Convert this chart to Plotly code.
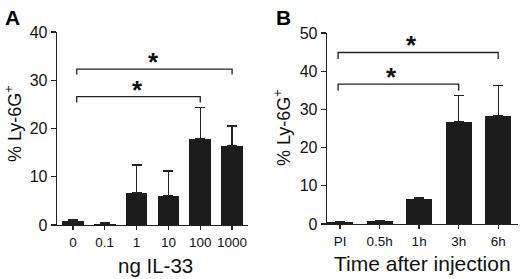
import plotly.graph_objects as go

W, H = 520, 279

# ---------------- data ----------------
a_cats = ["0", "0.1", "1", "10", "100", "1000"]
a_vals = [0.8, 0.3, 6.6, 6.1, 17.8, 16.4]
a_err = [0.2, 0.1, 5.8, 5.1, 6.5, 4.1]

b_cats = ["PI", "0.5h", "1h", "3h", "6h"]
b_vals = [0.6, 0.7, 6.6, 26.8, 28.4]
b_err = [0.1, 0.1, 0.4, 6.8, 7.8]

# brackets: (left index, right index, height, drop height)
a_brackets = [(0, 5, 32.3, 31.2), (0, 4, 26.6, 25.4)]
b_brackets = [(0, 4, 44.9, 43.2), (0, 3, 36.6, 34.9)]

FONT = "Arial, Liberation Sans, sans-serif"
BAR = "#1c1c1c"
INK = "#222222"


def px_x(p):
    return p / W


def px_y(p):
    return (H - p) / H


fig = go.Figure()

fig.add_trace(go.Bar(
    x=list(range(len(a_cats))), y=a_vals, width=0.68,
    marker=dict(color=BAR, line=dict(width=0)),
    error_y=dict(type="data", array=a_err, arrayminus=[0] * len(a_err),
                 symmetric=False, color=INK, thickness=1.4, width=5),
    xaxis="x", yaxis="y", showlegend=False, hoverinfo="skip"))

fig.add_trace(go.Bar(
    x=list(range(len(b_cats))), y=b_vals, width=0.66,
    marker=dict(color=BAR, line=dict(width=0)),
    error_y=dict(type="data", array=b_err, arrayminus=[0] * len(b_err),
                 symmetric=False, color=INK, thickness=1.4, width=5),
    xaxis="x2", yaxis="y2", showlegend=False, hoverinfo="skip"))

axis_common = dict(showgrid=False, zeroline=False, showline=True,
                   linecolor=INK, linewidth=1.3, ticks="outside",
                   tickcolor=INK, tickwidth=1.3, ticklen=5, automargin=False,
                   tickfont=dict(family=FONT, size=13.5, color="#111"))

fig.update_layout(
    width=W, height=H,
    margin=dict(l=0, r=0, t=0, b=0, autoexpand=False),
    paper_bgcolor="white", plot_bgcolor="white",
    bargap=0,
    xaxis=dict(axis_common, domain=[px_x(57), px_x(248)], range=[-0.5, 5.5],
               tickmode="array", tickvals=list(range(len(a_cats))),
               ticktext=a_cats, anchor="y", ticklen=4),
    yaxis=dict(axis_common, domain=[px_y(225), px_y(32)], range=[0, 40],
               tickvals=[0, 10, 20, 30, 40], anchor="x",
               tickfont=dict(family=FONT, size=16, color="#111")),
    xaxis2=dict(axis_common, domain=[px_x(327), px_x(518)], range=[-0.33, 4.5],
                tickmode="array", tickvals=list(range(len(b_cats))),
                ticktext=b_cats, anchor="y2", ticklen=4),
    yaxis2=dict(axis_common, domain=[px_y(224), px_y(33)], range=[0, 50],
                tickvals=[0, 10, 20, 30, 40, 50], anchor="x2",
                tickfont=dict(family=FONT, size=16, color="#111")),
)

shapes = []
annotations = []


def add_brackets(brackets, xref, yref, left_off, star_off):
    for (i0, i1, h, d) in brackets:
        x0 = i0 + left_off
        x1 = i1
        shapes.append(dict(type="path", xref=xref, yref=yref,
                           path=f"M {x0},{d} L {x0},{h} L {x1},{h} L {x1},{d}",
                           line=dict(color=INK, width=1.3)))
        annotations.append(dict(x=(x0 + x1) / 2 + star_off, y=h,
                                xref=xref, yref=yref,
                                text="<b>*</b>", showarrow=False,
                                yanchor="bottom", yshift=-10,
                                font=dict(family=FONT, size=26, color="#111")))


add_brackets(a_brackets, "x", "y", 0.12, -0.03)
add_brackets(b_brackets, "x2", "y2", -0.05, -0.17)

# axis titles
annotations += [
    dict(x=px_x(155), y=px_y(265), xref="paper", yref="paper",
         text="ng IL-33", showarrow=False, xanchor="center", yanchor="middle",
         font=dict(family=FONT, size=20.5, color="#111")),
    dict(x=px_x(422), y=px_y(263), xref="paper", yref="paper",
         text="Time after injection", showarrow=False, xanchor="center",
         yanchor="middle", font=dict(family=FONT, size=21, color="#111")),
    dict(x=px_x(13), y=px_y(124), xref="paper", yref="paper",
         text="% Ly-6G<sup>+</sup>", showarrow=False, textangle=-90,
         xanchor="center", yanchor="middle",
         font=dict(family=FONT, size=18, color="#111")),
    dict(x=px_x(282), y=px_y(128), xref="paper", yref="paper",
         text="% Ly-6G<sup>+</sup>", showarrow=False, textangle=-90,
         xanchor="center", yanchor="middle",
         font=dict(family=FONT, size=18, color="#111")),
    dict(x=px_x(12), y=px_y(17), xref="paper", yref="paper",
         text="<b>A</b>", showarrow=False, xanchor="center", yanchor="middle",
         font=dict(family=FONT, size=21, color="#000")),
    dict(x=px_x(283), y=px_y(17), xref="paper", yref="paper",
         text="<b>B</b>", showarrow=False, xanchor="center", yanchor="middle",
         font=dict(family=FONT, size=21, color="#000")),
]

fig.update_layout(shapes=shapes, annotations=annotations)

fig.write_html("out.html",
               config={"displayModeBar": False, "staticPlot": True},
               post_script="document.body.style.margin='0';"
                           "document.body.style.overflow='hidden';")
